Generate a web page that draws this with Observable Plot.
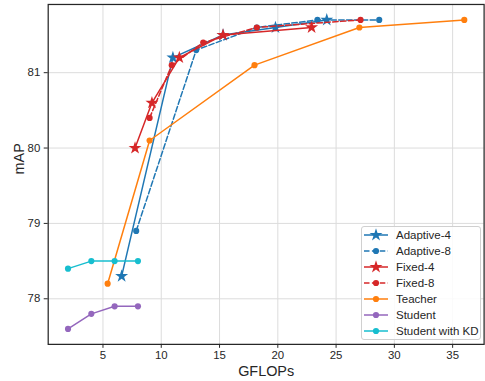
<!DOCTYPE html>
<html>
<head>
<meta charset="utf-8">
<script src="https://cdn.jsdelivr.net/npm/d3@7"></script>
<script src="https://cdn.jsdelivr.net/npm/@observablehq/plot@0.6"></script>
<style>
  html, body { margin: 0; padding: 0; background: white; overflow: hidden; }
  #wrap { position: relative; width: 485px; height: 381px; overflow: hidden; }
  #legend {
    position: absolute; left: 361px; top: 226px; width: 118px; height: 112px;
    border: 1px solid #d0d0d0; border-radius: 3px; background: rgba(255,255,255,0.85);
    font-family: "Liberation Sans", Arial, sans-serif; font-size: 11.5px; color: #262626;
  }
  .row { height: 16px; display: flex; align-items: center; padding-left: 2px; }
  .row svg { display: block; margin-right: 8px; }
</style>
</head>
<body>
<div id="wrap"></div>
<script>
// Series names and values
const seriesNames = ["Adaptive-4", "Adaptive-8", "Fixed-4", "Fixed-8", "Teacher", "Student", "Student with KD"];
const seriesColors = ["#1f77b4", "#1f77b4", "#d62728", "#d62728", "#ff7f0e", "#9467bd", "#17becf"];
const seriesDashed = [false, true, false, true, false, false, false];
const seriesSymbols = ["star", "circle", "star", "circle", "circle", "circle", "circle"];

const adaptive4X = [6.6, 11.0, 15.3, 19.8, 24.2];
const adaptive4Y = [78.3, 81.2, 81.5, 81.6, 81.7];
const adaptive8X = [7.85, 13.0, 18.2, 23.4, 28.7];
const adaptive8Y = [78.9, 81.3, 81.6, 81.7, 81.7];
const fixed4X = [7.75, 9.2, 11.55, 15.3, 22.9];
const fixed4Y = [80.0, 80.6, 81.2, 81.5, 81.6];
const fixed8X = [9.0, 10.9, 13.6, 18.2, 27.1];
const fixed8Y = [80.4, 81.1, 81.4, 81.6, 81.7];
const teacherX = [5.4, 9.0, 18.0, 27.0, 36.0];
const teacherY = [78.2, 80.1, 81.1, 81.6, 81.7];
const studentX = [2, 4, 6, 8];
const studentY = [77.6, 77.8, 77.9, 77.9];
const studentKDX = [2, 4, 6, 8];
const studentKDY = [78.4, 78.5, 78.5, 78.5];

const xTicks = [5, 10, 15, 20, 25, 30, 35];
const yTicks = [78, 79, 80, 81];
const xLabel = "GFLOPs";
const yLabel = "mAP";

const allX = [adaptive4X, adaptive8X, fixed4X, fixed8X, teacherX, studentX, studentKDX];
const allY = [adaptive4Y, adaptive8Y, fixed4Y, fixed8Y, teacherY, studentY, studentKDY];

const series = seriesNames.map((name, i) => allX[i].map((x, j) => ({name, x, y: allY[i][j]})));

// matplotlib-like 5% margins
const flatX = allX.flat(), flatY = allY.flat();
const xPad = (d3.max(flatX) - d3.min(flatX)) * 0.05;
const yPad = (d3.max(flatY) - d3.min(flatY)) * 0.05;

const STAR_R = 4.1, DOT_R = 3.1;

const marks = [
  Plot.gridX(xTicks, {stroke: "#dcdcdc", strokeOpacity: 1, strokeWidth: 1}),
  Plot.gridY(yTicks, {stroke: "#dcdcdc", strokeOpacity: 1, strokeWidth: 1}),
  Plot.axisX(xTicks, {tickSize: 4, tickPadding: 3, fontSize: 11.5, label: null, stroke: "#262626", tickFormat: d => String(d)}),
  Plot.axisY(yTicks, {tickSize: 4, tickPadding: 4, fontSize: 11.5, label: null, stroke: "#262626", tickFormat: d => String(d)}),
  Plot.frame({stroke: "#262626", strokeWidth: 1.25})
];
series.forEach((data, i) => {
  marks.push(Plot.line(data, {
    x: "x", y: "y", stroke: seriesColors[i], strokeWidth: 1.5,
    strokeDasharray: seriesDashed[i] ? "5.5,2.4" : null
  }));
  marks.push(Plot.dot(data, {
    x: "x", y: "y", fill: seriesColors[i], stroke: "none",
    symbol: seriesSymbols[i], r: seriesSymbols[i] === "star" ? STAR_R : DOT_R
  }));
});
marks.push(Plot.text([xLabel], {frameAnchor: "bottom", dy: 27, fontSize: 14.5, lineAnchor: "middle", fill: "#262626"}));
marks.push(Plot.text([yLabel], {frameAnchor: "left", dx: -29, rotate: -90, fontSize: 14.5, lineAnchor: "middle", fill: "#262626"}));

const chart = Plot.plot({
  width: 488,
  height: 381,
  marginLeft: 48,
  marginRight: 1.4,
  marginTop: 4,
  marginBottom: 35,
  style: {fontFamily: "'Liberation Sans', Arial, sans-serif", fontSize: "11.5px", color: "#262626", background: "white", overflow: "visible"},
  x: {domain: [d3.min(flatX) - xPad, d3.max(flatX) + xPad]},
  y: {domain: [d3.min(flatY) - yPad, d3.max(flatY) + yPad]},
  marks
});
const wrap = document.getElementById("wrap");
wrap.appendChild(chart);

// Legend
const legend = document.createElement("div");
legend.id = "legend";
const ns = "http://www.w3.org/2000/svg";
seriesNames.forEach((name, i) => {
  const row = document.createElement("div");
  row.className = "row";
  const svg = document.createElementNS(ns, "svg");
  svg.setAttribute("width", 24);
  svg.setAttribute("height", 14);
  const line = document.createElementNS(ns, "line");
  line.setAttribute("x1", 0); line.setAttribute("x2", 24);
  line.setAttribute("y1", 7); line.setAttribute("y2", 7);
  line.setAttribute("stroke", seriesColors[i]);
  line.setAttribute("stroke-width", 1.5);
  if (seriesDashed[i]) line.setAttribute("stroke-dasharray", "5.5,2.4");
  svg.appendChild(line);
  const path = document.createElementNS(ns, "path");
  const sym = seriesSymbols[i] === "star" ? d3.symbolStar : d3.symbolCircle;
  const r = seriesSymbols[i] === "star" ? STAR_R : DOT_R;
  path.setAttribute("d", d3.symbol(sym, r * r * Math.PI)());
  path.setAttribute("transform", "translate(12,7)");
  path.setAttribute("fill", seriesColors[i]);
  svg.appendChild(path);
  row.appendChild(svg);
  const span = document.createElement("span");
  span.textContent = name;
  row.appendChild(span);
  legend.appendChild(row);
});
wrap.appendChild(legend);
</script>
</body>
</html>
